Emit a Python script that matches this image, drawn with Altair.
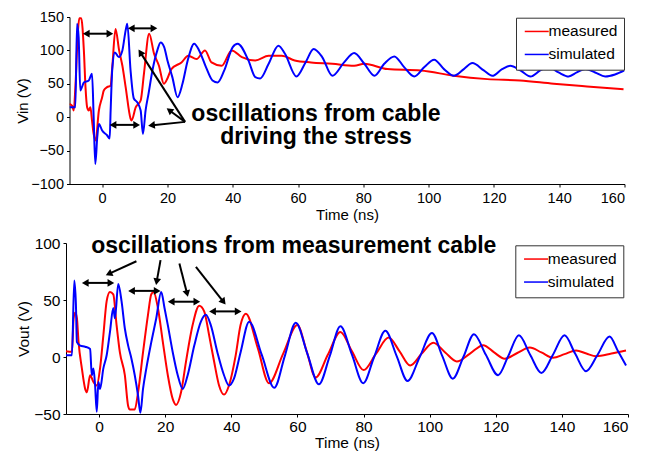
import math
import altair as alt
import pandas as pd

# ---------------- data ----------------
series_names = ["measured", "simulated"]
series_colors = ["#ff0000", "#0000ff"]
x_ticks = [0, 20, 40, 60, 80, 100, 120, 140, 160]

# Vin panel
vin_meas_t = [-10, -9.2, -8.7, -8.2, -7.4, -7.0, -6.4, -5.6, -5.1, -4.6, -4.1, -3.6, -3.1, -2.6, -2.0,
              -1.0, 0, 0.5, 1.5, 2.6, 3.1, 4.1, 5.2, 6.2, 7.2, 8.7, 9.0, 10.3, 11.8, 12.8, 14.4, 15.9,
              17.4, 18.9, 20, 21.2, 24.3, 26.4, 28.9, 31.5, 33.5, 36.6, 39.7, 42.8, 46.9, 51, 55, 59,
              64, 70.5, 77.2, 80.3, 87.4, 97.6, 107.7, 118, 128, 138.3, 148.5, 159.7]
vin_meas_v = [20, 17, 10, 45, 130, 148, 148, 100, 45, 15, 10, 15, -5, -25, -35,
              10, 30, 40, 45, 47, 75, 132, 100, 77, 45, -2, -5, 15, 25, 65, 125, 95,
              77, 50, 58, 72, 82, 92, 87, 100, 82, 77, 100, 90, 85, 92, 92, 85,
              82, 80, 77, 80, 72, 70, 62, 57, 55, 50, 46, 42]
vin_sim_t = [-10, -8.2, -7.7, -7.2, -6.7, -6.2, -5.6, -4.1, -3.1, -2.6, -2.1, -1.5, -1.0, 0, 1.5, 2.3,
             2.6, 3.1, 3.9, 5.1, 6.2, 7.2, 7.7, 8.7, 9.7, 10.8, 11.8, 12.5, 13.3, 14.2, 15.4, 16.9,
             17.9, 19, 20, 21.5, 23.1, 24.6, 26.2, 28.2, 29.7, 31.8, 33.8, 35.4, 37.4, 40, 41.5, 44.8,
             46.9, 48.4, 51, 54, 56, 59.5, 62.3, 64.8, 67.4, 70.5, 74.1, 77.2, 80.3, 83.4, 86.4, 89.5,
             92.5, 95.6, 98.7, 101.7, 104.7, 107.7, 110.8, 113.4, 116.9, 119.5, 122.5, 125, 128.1,
             131.2, 134.2, 136.8, 139.8, 142.9, 145.4, 148, 151, 154.1, 157.1, 160]
vin_sim_v = [15, 15, 140, 120, 40, 45, 52, 55, 65, 0, -70, -30, -10, -20, -27, -32,
             10, 72, 97, 90, 100, 130, 140, 70, 28, 22, 10, -25, 10, 35, 70, 100,
             112, 105, 85, 60, 30, 50, 85, 110, 100, 75, 55, 52, 70, 105, 110, 85,
             60, 58, 80, 107, 95, 61, 82, 102, 90, 62, 82, 96, 80, 62, 80, 91,
             75, 61, 75, 86, 72, 62, 72, 81, 70, 62, 72, 77, 70,
             61, 70, 75, 67, 61, 67, 72, 67, 61, 64, 70]
vin_ticks = [-100, -50, 0, 50, 100, 150]

# Vout panel
vout_meas_t = [-10, -8.2, -7.7, -7.2, -6.7, -6.2, -5.2, -4.2, -3.7, -2.7, -1.7, -0.7, 0.3, 1.3, 2.3,
               3.3, 4.3, 5.3, 6.3, 7.8, 8.8, 9.3, 10.8, 11.8, 13.3, 14.8, 15.8, 16.5, 17.8, 19.3,
               20.8, 22.3, 23.3, 24.8, 26.3, 28.3, 30.3, 31.8, 33.3, 34.8, 36.3, 37.8, 39.3, 41.3,
               42.8, 44.4, 48, 51.4, 55.7, 60, 62.8, 65.5, 69.2, 73, 76.5, 80, 83.8, 87.6, 90.9,
               94.1, 97.6, 101.1, 104.7, 108.2, 112.2, 116.2, 119.5, 122.7, 126.5, 130.3, 133.8,
               137.3, 140.8, 144.3, 147.4, 150.4, 155, 159.4]
vout_meas_v = [5, 4.5, 34, 39, 34, 13, -10, -28, -31, -16, -22, -25, -10, 19, 49,
               57, 55, 28, 4, -16, -43, -46, -46, -31, 4, 37, 55, 57, 43, 13,
               -16, -37, -42, -31, -4, 28, 45, 40, 19, -4, -25, -33, -25, 1,
               28, 38, 8, -23, 3, 28, 5, -18, 2, 22, 5, -11.5, 3, 17, 5,
               -7.4, 3, 12.5, 4, -3.9, 3, 10.4, 4, -1.5, 3.5, 8.3, 4,
               -0.6, 2.5, 5.7, 3, 0.7, 3, 5.7]
vout_sim_t = [-10, -8.2, -7.5, -7, -6.7, -5.7, -4.2, -2.7, -2.2, -1.7, -1.2, -0.7, -0.2, 0.3, 1.3,
              2.3, 3.3, 4.3, 4.8, 5.8, 6.8, 7.8, 8.8, 9.8, 10.8, 11.8, 12.5, 13.3, 14.3, 15.8,
              17.3, 18.8, 19.8, 20.8, 22.3, 23.8, 25.3, 26.8, 28.8, 30.8, 32.3, 33.8, 35.8, 37.8,
              39.3, 40.8, 42.8, 45.4, 49.2, 53, 56.2, 59.5, 63, 66.5, 69.8, 73, 76.5, 79.9, 83.2,
              86.6, 90, 93.3, 97, 100.7, 103.8, 107, 110.2, 113.4, 117, 120.7, 123.8, 127, 130.4,
              133.8, 137.3, 140.8, 144, 147.3, 150.8, 154.4, 157, 159.4]
vout_sim_v = [1.5, 1.5, 67, 46, 13, 10, 9, 7, -16, -10, -25, -48, -22, -28, -10,
              1.5, 22, 43, 34, 64, 49, 25, 10, -1.5, -16, -34, -49, -28, -10, 13,
              34, 57, 43, 28, 4, -16, -28, -16, 10, 31, 37, 28, 4, -16,
              -25, -19, 4, 31, 2, -27, 1, 30, 3, -24, 1, 27, 2, -23, 0,
              23, 1, -21, 0, 21, 1, -19, 0, 20, 2, -16, 1, 19, 2,
              -14, 2, 19, 3, -12.5, 2, 18, 5, -7.4]
vout_ticks = [-50, 0, 50, 100]

# annotations (data coordinates)
vin_text = ["oscillations from cable", "driving the stress"]
vin_text_t = [65.5, 65.5]
vin_text_v = [5.5, -30]
vin_dbl_y = [125, 133, -11.5]
vin_dbl_x1 = [-5.6, 8.2, 2.6]
vin_dbl_x2 = [3.1, 16.6, 11.3]
vin_ptr_x1 = [25.4, 25.4, 25.4]
vin_ptr_y1 = [-7, -7, -7]
vin_ptr_x2 = [11.3, 20.0, 14.4]
vin_ptr_y2 = [100, 12.5, -12.5]

vout_text = ["oscillations from measurement cable"]
vout_text_t = [58.9]
vout_text_v = [97.3]
vout_dbl_y = [65, 58, 48.5, 40]
vout_dbl_x1 = [-4.9, 9.1, 21.1, 33.6]
vout_dbl_x2 = [4.3, 18.3, 30.3, 42.8]
vout_ptr_x1 = [11.3, 18.6, 24.3, 29.3]
vout_ptr_y1 = [84, 85, 82, 79]
vout_ptr_x2 = [2.3, 17.3, 26.8, 38.1]
vout_ptr_y2 = [72, 64, 53.6, 46.7]

FONT = "Liberation Sans"
LEGEND_SYMBOL = "M-1,0H3.8"


def build_panel(meas_t, meas_v, sim_t, sim_v, x_dom, y_dom, y_ticks, y_title, w, h,
                dbl_y, dbl_x1, dbl_x2, ptr_x1, ptr_y1, ptr_x2, ptr_y2,
                txt, txt_t, txt_v, leg_x, leg_y, lab_fs, tit_fs, x_lp, x_tp, y_tp):
    kx = w / (x_dom[1] - x_dom[0])
    ky = h / (y_dom[1] - y_dom[0])
    line_df = pd.DataFrame({
        "t": list(meas_t) + list(sim_t),
        "v": list(meas_v) + list(sim_v),
        "series": [series_names[0]] * len(meas_t) + [series_names[1]] * len(sim_t),
    })
    segs = []
    for y, a, b in zip(dbl_y, dbl_x1, dbl_x2):
        segs.append((a, y, b, y, True, True))
    for a, ya, b, yb in zip(ptr_x1, ptr_y1, ptr_x2, ptr_y2):
        segs.append((a, ya, b, yb, False, True))
    rules, heads = [], []
    back = 3.5
    for xa, ya, xb, yb, ha, hb in segs:
        dx = (xb - xa) * kx
        dy = (yb - ya) * ky
        L = math.hypot(dx, dy)
        ux, uy = dx / L, dy / L
        sa, sb = (xa, ya), (xb, yb)
        if hb:
            cx, cy = xb - back * ux / kx, yb - back * uy / ky
            heads.append({"t": cx, "v": cy, "ang": math.degrees(math.atan2(ux, uy)) % 360})
            sb = (cx, cy)
        if ha:
            cx, cy = xa + back * ux / kx, ya + back * uy / ky
            heads.append({"t": cx, "v": cy, "ang": math.degrees(math.atan2(-ux, -uy)) % 360})
            sa = (cx, cy)
        rules.append({"t": sa[0], "v": sa[1], "t2": sb[0], "v2": sb[1]})
    rule_df = pd.DataFrame(rules)
    head_df = pd.DataFrame(heads)
    text_df = pd.DataFrame({"t": txt_t, "v": txt_v, "label": txt})

    xs = alt.Scale(domain=x_dom, nice=False, zero=False)
    ys = alt.Scale(domain=y_dom, nice=False, zero=False)
    X = alt.X("t:Q", scale=xs, title="Time (ns)",
              axis=alt.Axis(values=x_ticks, labelPadding=x_lp, titlePadding=x_tp,
                            labelFontSize=lab_fs, titleFontSize=tit_fs))
    Y = alt.Y("v:Q", scale=ys, title=y_title,
              axis=alt.Axis(values=y_ticks, labelPadding=3, titlePadding=y_tp,
                            labelFontSize=lab_fs, titleFontSize=tit_fs))

    lines = alt.Chart(line_df).mark_line(strokeWidth=2, interpolate="monotone", clip=True).encode(
        x=X, y=Y,
        color=alt.Color("series:N",
                        scale=alt.Scale(domain=series_names, range=series_colors),
                        legend=alt.Legend(title=None, orient="none", legendX=leg_x, legendY=leg_y,
                                          symbolType=LEGEND_SYMBOL, symbolSize=100,
                                          symbolStrokeWidth=1.5,
                                          labelFontSize=15.5, labelFont=FONT, labelColor="black",
                                          strokeColor="#333333", fillColor="white",
                                          padding=6, rowPadding=6, labelOffset=11)),
    )
    rule_layer = alt.Chart(rule_df).mark_rule(color="black", strokeWidth=2).encode(
        x=X, y=Y, x2="t2:Q", y2="v2:Q")
    head_layer = alt.Chart(head_df).mark_point(shape="triangle", filled=True, color="black",
                                               size=60, opacity=1).encode(
        x=X, y=Y, angle=alt.Angle("ang:Q", scale=None))
    text_layer = alt.Chart(text_df).mark_text(font=FONT, fontSize=23, fontWeight="bold",
                                              color="black", align="center",
                                              baseline="middle").encode(
        x=X, y=Y, text="label:N")
    return alt.layer(lines, rule_layer, head_layer, text_layer).properties(width=w, height=h)


top = build_panel(vin_meas_t, vin_meas_v, vin_sim_t, vin_sim_v, [-10, 160], [-100, 150],
                  vin_ticks, "Vin (V)", 555, 167,
                  vin_dbl_y, vin_dbl_x1, vin_dbl_x2, vin_ptr_x1, vin_ptr_y1, vin_ptr_x2, vin_ptr_y2,
                  vin_text, vin_text_t, vin_text_v, 446.5, 0.7,
                  14.5, 15, 4, 3, 0)
bottom = build_panel(vout_meas_t, vout_meas_v, vout_sim_t, vout_sim_v, [-10, 160], [-50, 100],
                     vout_ticks, "Vout (V)", 562, 171,
                     vout_dbl_y, vout_dbl_x1, vout_dbl_x2, vout_ptr_x1, vout_ptr_y1, vout_ptr_x2,
                     vout_ptr_y2, vout_text, vout_text_t, vout_text_v, 449.3, 2.3,
                     15.5, 15.5, 2, 1, 2)

chart = alt.vconcat(top, bottom, spacing=59, bounds="flush", center=True).resolve_scale(
    x="independent", y="independent", color="independent"
).properties(
    padding={"left": 7, "top": 1, "right": 5, "bottom": 0}
).configure_view(stroke=None).configure_axis(
    domainColor="black", tickColor="black", labelColor="black", titleColor="black",
    grid=False, labelFont=FONT, titleFont=FONT,
    titleFontWeight="normal", tickSize=3, domainWidth=1, tickWidth=1
)

chart.save("out.html", embed_options={"renderer": "svg", "actions": False})
